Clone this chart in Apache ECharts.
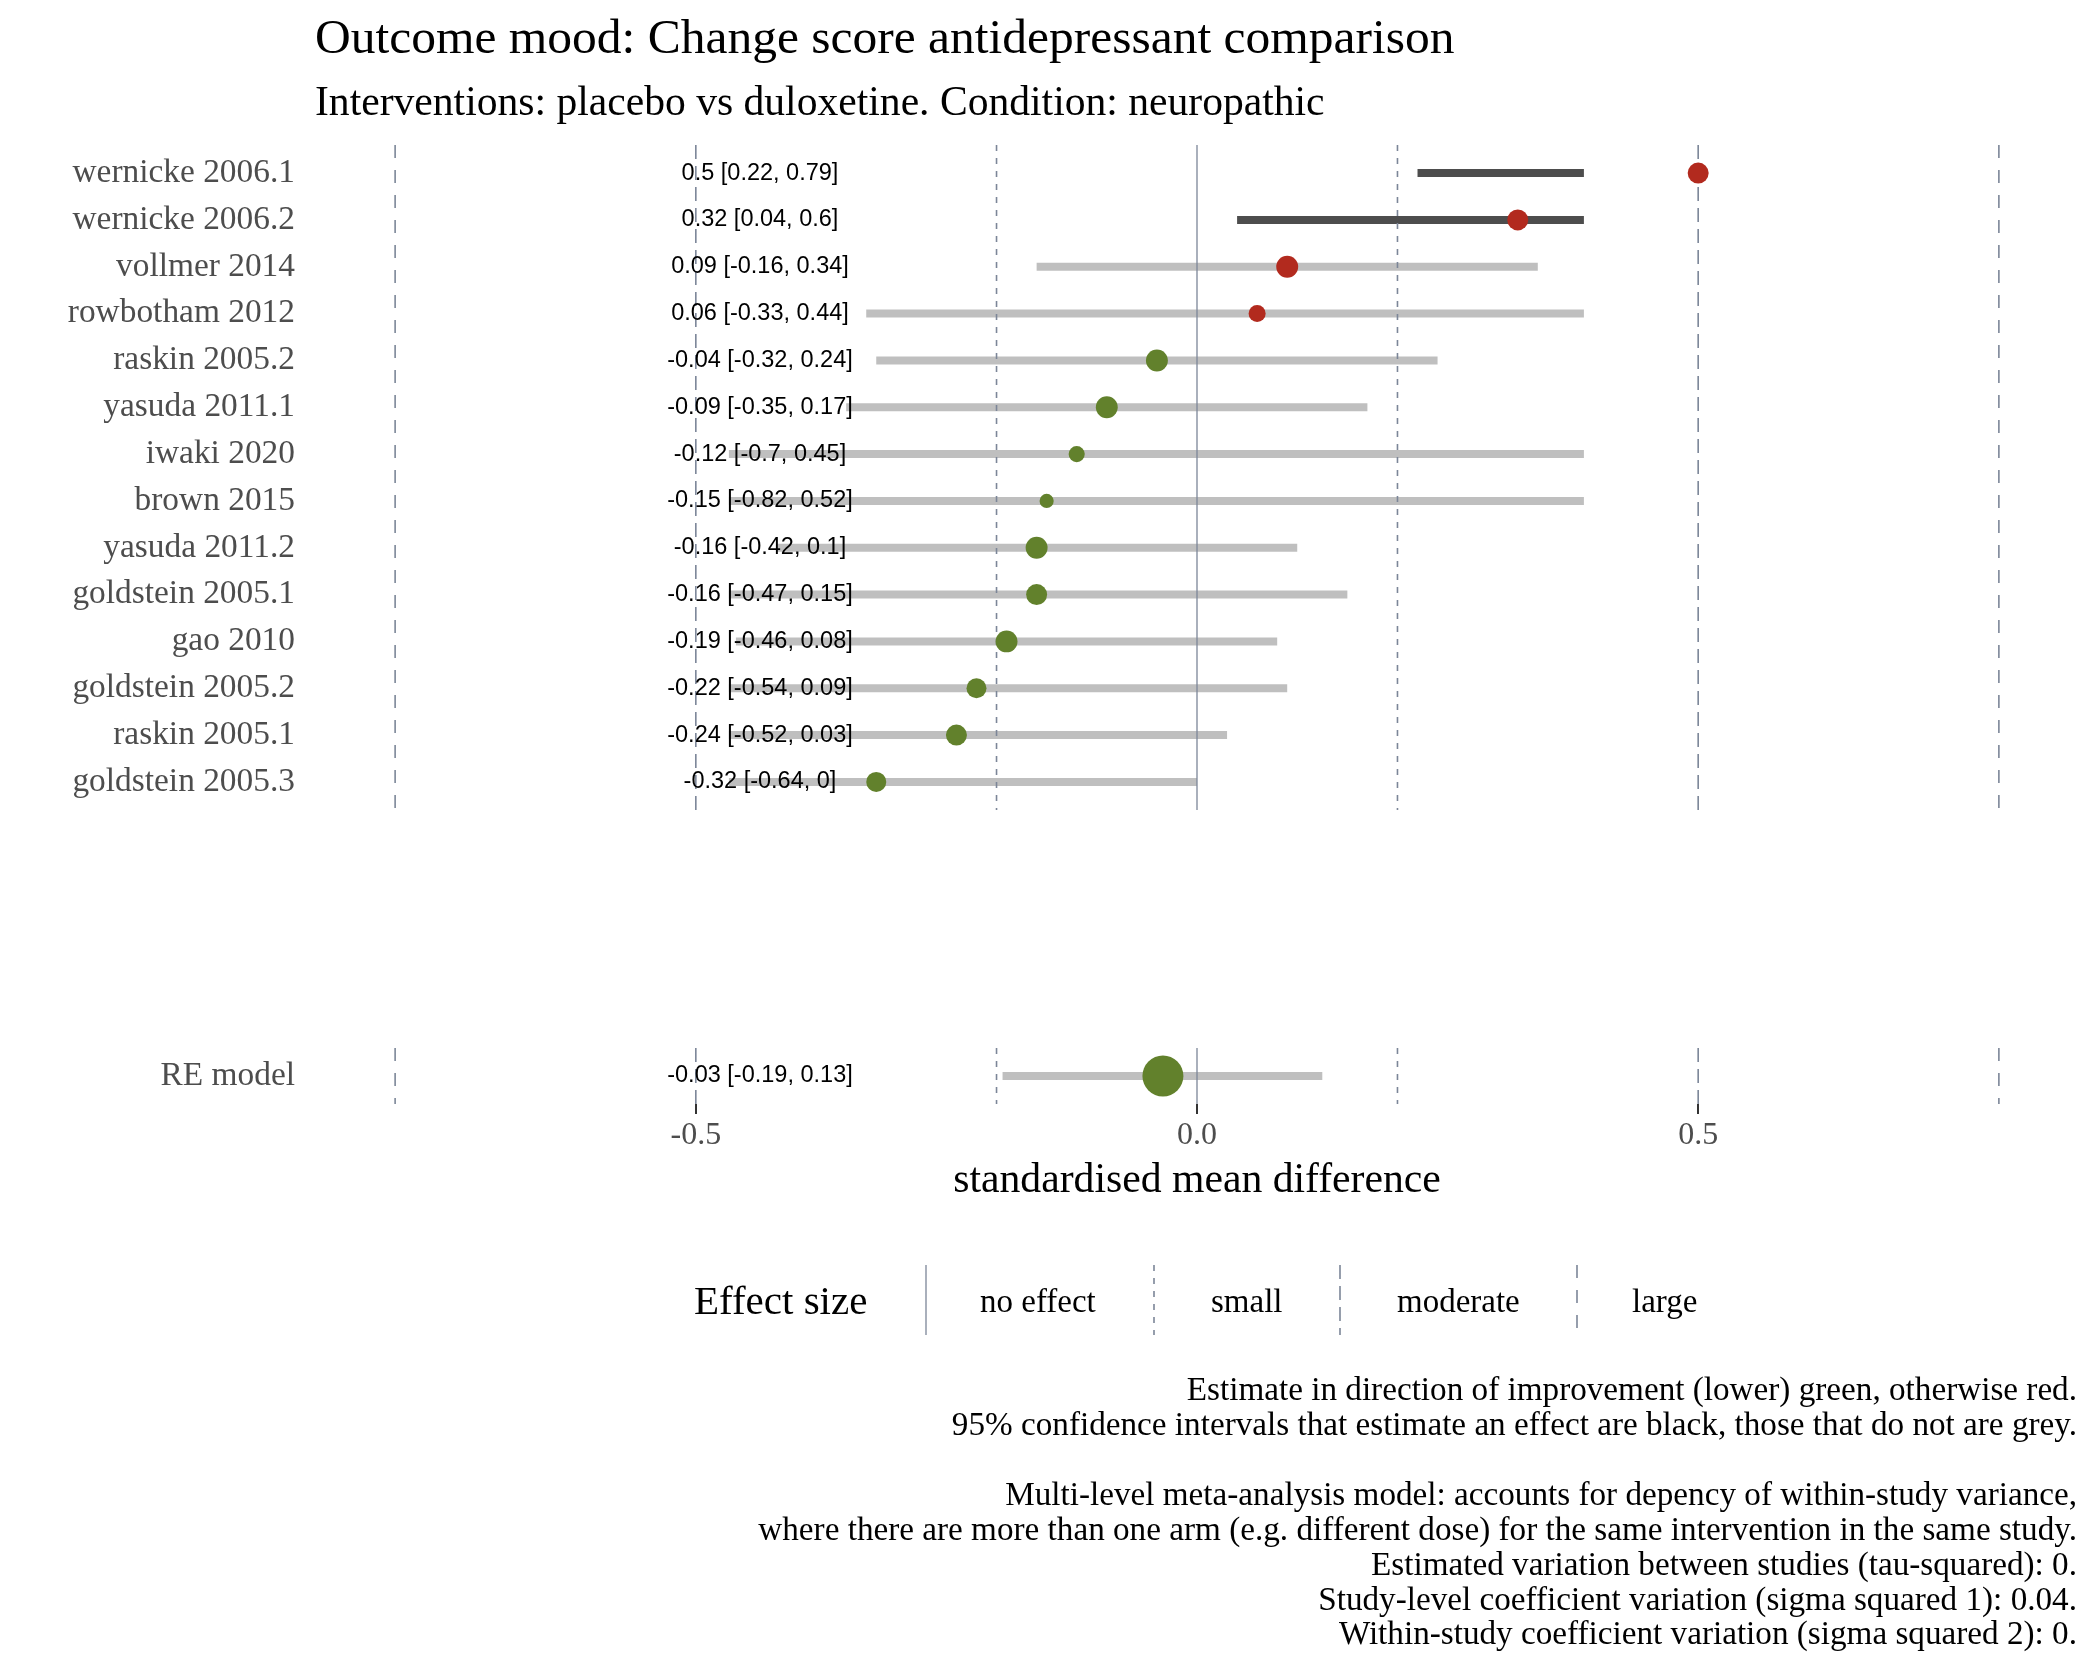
<!DOCTYPE html>
<html><head><meta charset="utf-8">
<script src="https://cdn.jsdelivr.net/npm/echarts@6/dist/echarts.min.js"></script>
<style>html,body{margin:0;padding:0;background:#fff}#chart{width:2100px;height:1680px}</style>
</head><body><div id="chart"></div>
<script>
// ---------------- data ----------------
const studies = ['wernicke 2006.1','wernicke 2006.2','vollmer 2014','rowbotham 2012','raskin 2005.2','yasuda 2011.1','iwaki 2020','brown 2015','yasuda 2011.2','goldstein 2005.1','gao 2010','goldstein 2005.2','raskin 2005.1','goldstein 2005.3'];
const estimates = [0.5, 0.32, 0.09, 0.06, -0.04, -0.09, -0.12, -0.15, -0.16, -0.16, -0.19, -0.22, -0.24, -0.32];
const lowerCI   = [0.22, 0.04, -0.16, -0.33, -0.32, -0.35, -0.7, -0.82, -0.42, -0.47, -0.46, -0.54, -0.52, -0.64];
const upperCI   = [0.79, 0.6, 0.34, 0.44, 0.24, 0.17, 0.45, 0.52, 0.1, 0.15, 0.08, 0.09, 0.03, 0];
const weights   = [4.4, 4.4, 4.8, 2.9, 4.8, 4.8, 2.6, 2.0, 4.8, 4.4, 4.8, 4.0, 4.4, 4.0];
const modelName = ['RE model'];
const modelEstimate = [-0.034];
const modelLower = [-0.194];
const modelUpper = [0.125];
const modelWeight = [16.8];
const xTicks = [-0.5, 0, 0.5];
const effectLevels = ['no effect', 'small', 'moderate', 'large'];
const effectThresholds = [0, 0.2, 0.5, 0.8];
const captionLines = [
  'Estimate in direction of improvement (lower) green, otherwise red.',
  '95% confidence intervals that estimate an effect are black, those that do not are grey.',
  '',
  'Multi-level meta-analysis model: accounts for depency of within-study variance,',
  'where there are more than one arm (e.g. different dose) for the same intervention in the same study.',
  'Estimated variation between studies (tau-squared): 0.',
  'Study-level coefficient variation (sigma squared 1): 0.04.',
  'Within-study coefficient variation (sigma squared 2): 0.'
];

// ---------------- styling ----------------
const SERIF = '"Liberation Serif", "Times New Roman", serif';
const SANS = '"Liberation Sans", Arial, sans-serif';
const GREEN = '#62812c', RED = '#b22a1e';
const SIG_BAR = '#4d4d4d', NS_BAR = '#bfbfbf';
const REF_COLOR = '#7c8698';
const DASHES = [null, [6, 7], [14, 7], [13, 12]];
const CLIP = [-0.467, 0.386];   // visible range of the interval segments
const LABEL_X = -0.436;          // data position of the estimate text column

const refLines = [];
effectThresholds.forEach((t, i) => {
  if (t === 0) refLines.push([0, i]);
  else { refLines.push([-t, i]); refLines.push([t, i]); }
});

function fmt(v) { return String(Math.round(v * 100) / 100); }

function makeRows(est, lo, hi, w) {
  return est.map((e, i) => ({ row: i + 1, est: e, lo: lo[i], hi: hi[i], w: w[i] }));
}
const studyRows = makeRows(estimates, lowerCI, upperCI, weights);
const modelRows = makeRows(modelEstimate, modelLower, modelUpper, modelWeight);

function refSeries(gi) {
  return {
    type: 'custom', xAxisIndex: gi, yAxisIndex: gi, z: 2, silent: true,
    data: refLines,
    renderItem: function (params, api) {
      const x = api.value(0), k = api.value(1);
      const cs = params.coordSys;
      const px = api.coord([x, 1])[0];
      return {
        type: 'line',
        shape: { x1: px, y1: cs.y, x2: px, y2: cs.y + cs.height },
        style: { stroke: REF_COLOR, lineWidth: k === 0 ? 1.3 : 1.6, lineDash: DASHES[k] || null }
      };
    }
  };
}
function barSeries(gi, rows) {
  return {
    type: 'custom', xAxisIndex: gi, yAxisIndex: gi, z: 1, silent: true,
    data: rows.map(r => [r.lo, r.hi, r.row]),
    encode: { x: [0, 1], y: 2 },
    renderItem: function (params, api) {
      const lo = api.value(0), hi = api.value(1), y = api.value(2);
      const p1 = api.coord([Math.max(lo, CLIP[0]), y]);
      const p2 = api.coord([Math.min(hi, CLIP[1]), y]);
      const sig = lo > 0 || hi < 0;
      return {
        type: 'line',
        shape: { x1: p1[0], y1: p1[1], x2: p2[0], y2: p2[1] },
        style: { stroke: sig ? SIG_BAR : NS_BAR, lineWidth: 8, lineCap: 'butt' }
      };
    }
  };
}
function pointSeries(gi, rows) {
  return {
    type: 'scatter', xAxisIndex: gi, yAxisIndex: gi, z: 3, silent: true,
    data: rows.map(r => ({
      value: [r.est, r.row],
      symbolSize: 10 * Math.sqrt(r.w),
      itemStyle: { color: r.est < 0 ? GREEN : RED, opacity: 1 }
    }))
  };
}
function textSeries(gi, rows) {
  return {
    type: 'custom', xAxisIndex: gi, yAxisIndex: gi, z: 4, silent: true,
    data: rows.map(r => [r.est, r.lo, r.hi, r.row]),
    renderItem: function (params, api) {
      const r = rows[params.dataIndex];
      const p = api.coord([LABEL_X, r.row]);
      return {
        type: 'text',
        style: {
          text: fmt(r.est) + ' [' + fmt(r.lo) + ', ' + fmt(r.hi) + ']',
          x: p[0], y: p[1], align: 'center', verticalAlign: 'middle',
          fontSize: 23.5, fontFamily: SANS, fill: '#000'
        }
      };
    }
  };
}

const xCommon = { type: 'value', min: -0.85, max: 0.85, splitLine: { show: false } };
const yLabelStyle = { fontFamily: SERIF, fontSize: 33.4, color: '#4d4d4d', margin: 50 };

const option = {
  backgroundColor: '#fff',
  animation: false,
  title: {
    left: 315, top: 15, padding: 0, itemGap: 19,
    text: 'Outcome mood: Change score antidepressant comparison',
    subtext: 'Interventions: placebo vs duloxetine. Condition: neuropathic',
    textStyle: { fontFamily: SERIF, fontSize: 49.5, fontWeight: 'normal', color: '#000', lineHeight: 50 },
    subtextStyle: { fontFamily: SERIF, fontSize: 41.6, color: '#000', lineHeight: 41 }
  },
  grid: [
    { left: 345, width: 1704, top: 145, height: 665 },
    { left: 345, width: 1704, top: 1048, height: 56 }
  ],
  xAxis: [
    Object.assign({ gridIndex: 0, show: false }, xCommon),
    Object.assign({
      gridIndex: 1,
      axisLine: { show: false },
      axisTick: { show: true, customValues: xTicks, length: 10, lineStyle: { color: '#333', width: 2 } },
      axisLabel: { customValues: xTicks, formatter: v => v.toFixed(1), fontFamily: SERIF, fontSize: 32, color: '#4d4d4d', margin: 16 },
      name: 'standardised mean difference', nameLocation: 'middle', nameGap: 56,
      nameTextStyle: { fontFamily: SERIF, fontSize: 41.7, color: '#000' }
    }, xCommon)
  ],
  yAxis: [
    {
      gridIndex: 0, type: 'value', min: 0.4, max: 14.6, inverse: true,
      axisLine: { show: false }, axisTick: { show: false }, splitLine: { show: false },
      axisLabel: Object.assign({ customValues: studies.map((s, i) => i + 1), formatter: v => studies[Math.round(v) - 1] || '' }, yLabelStyle)
    },
    {
      gridIndex: 1, type: 'value', min: 0.4, max: 1.6, inverse: true,
      axisLine: { show: false }, axisTick: { show: false }, splitLine: { show: false },
      axisLabel: Object.assign({ customValues: [1], formatter: v => modelName[Math.round(v) - 1] || '' }, yLabelStyle)
    }
  ],
  series: [
    barSeries(0, studyRows), refSeries(0), pointSeries(0, studyRows), textSeries(0, studyRows),
    barSeries(1, modelRows), refSeries(1), pointSeries(1, modelRows), textSeries(1, modelRows)
  ],
  graphic: (function () {
    const g = [];
    g.push({ type: 'text', x: 694, y: 1303, style: { text: 'Effect size', fontFamily: SERIF, fontSize: 41, fill: '#000', verticalAlign: 'middle' } });
    const keyX = [926, 1154, 1340, 1577];
    const labX = [980, 1211, 1397, 1632];
    effectLevels.forEach((lab, i) => {
      g.push({ type: 'line', shape: { x1: keyX[i], y1: 1265, x2: keyX[i], y2: 1335 },
        style: { stroke: REF_COLOR, lineWidth: i === 0 ? 1.3 : 1.6, lineDash: DASHES[i] || null } });
      g.push({ type: 'text', x: labX[i], y: 1303, style: { text: lab, fontFamily: SERIF, fontSize: 33, fill: '#000', verticalAlign: 'middle' } });
    });
    g.push({ type: 'text', x: 2077, y: 1374, style: {
      text: captionLines.join('\n'), fontFamily: SERIF, fontSize: 33.2, lineHeight: 34.9,
      fill: '#000', align: 'right', verticalAlign: 'top' } });
    return g;
  })()
};

const chart = echarts.init(document.getElementById('chart'), null, { renderer: 'canvas' });
chart.setOption(option);
</script>
</body></html>
